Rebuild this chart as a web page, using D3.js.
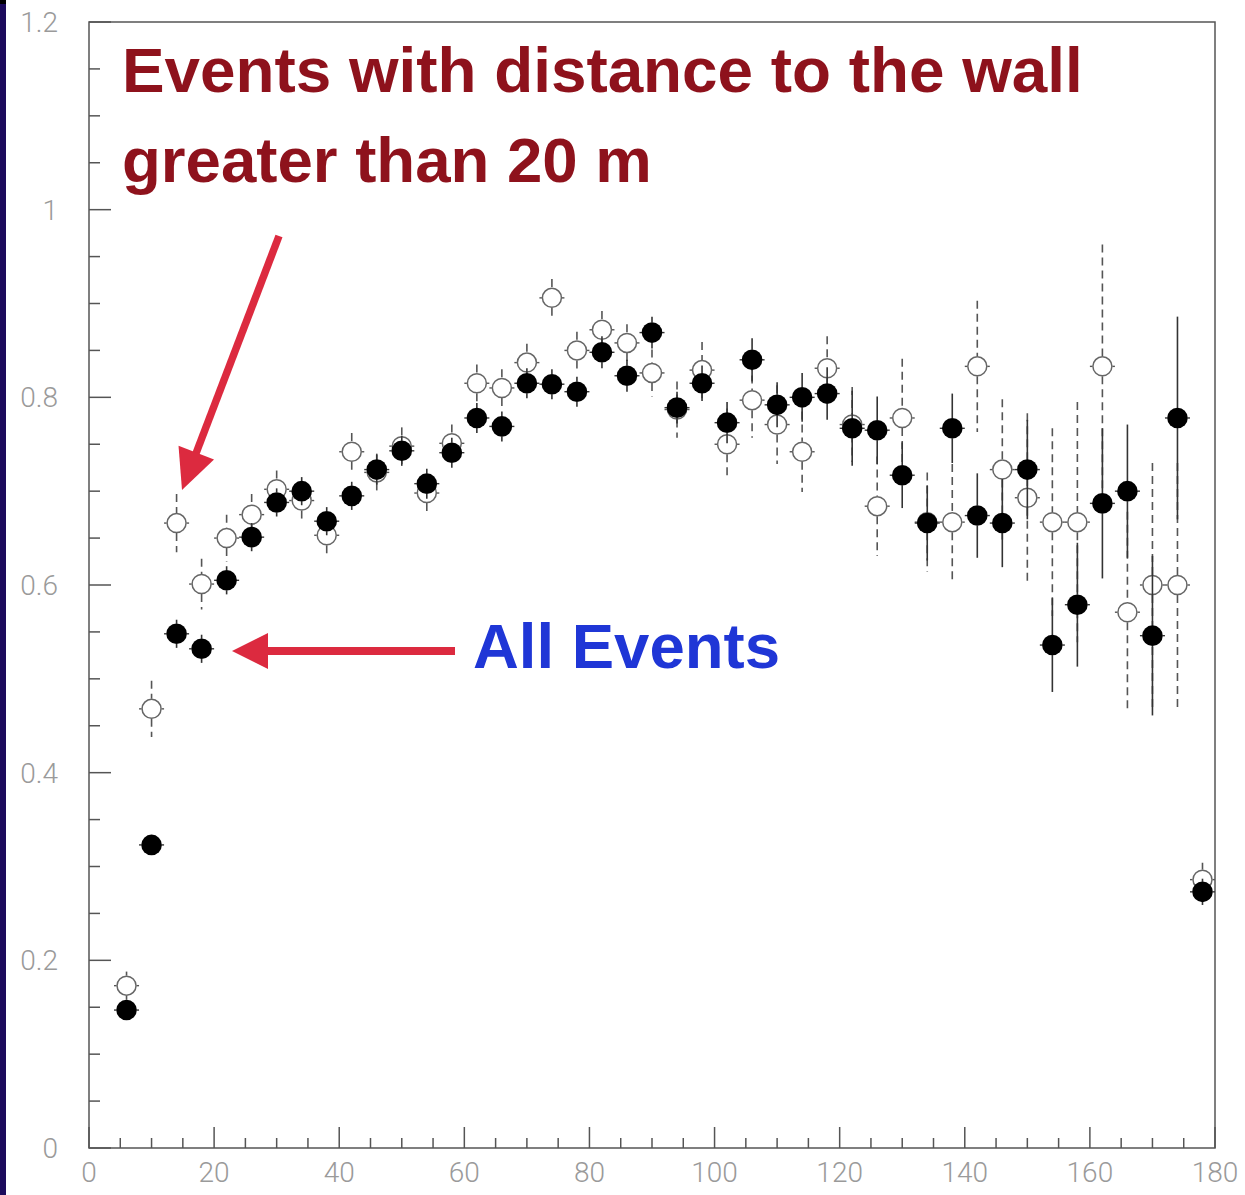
<!DOCTYPE html>
<html><head><meta charset="utf-8">
<script src="https://cdn.jsdelivr.net/npm/d3@7"></script>
<style>body{margin:0;background:#fff;overflow:hidden}</style>
</head><body>
<svg id="c" width="1245" height="1195"></svg>
<script>
// ---- data ----
const binCenters = [6,10,14,18,22,26,30,34,38,42,46,50,54,58,62,66,70,74,78,82,86,90,94,98,102,106,110,114,118,122,126,130,134,138,142,146,150,154,158,162,166,170,174,178];
const allEvents = [0.147,0.323,0.548,0.532,0.605,0.651,0.688,0.700,0.668,0.695,0.723,0.743,0.708,0.741,0.778,0.769,0.815,0.814,0.806,0.848,0.823,0.869,0.789,0.815,0.773,0.840,0.792,0.800,0.804,0.767,0.765,0.717,0.666,0.767,0.674,0.666,0.723,0.536,0.579,0.687,0.700,0.546,0.778,0.273];
const allErr = [0.008,0.010,0.015,0.015,0.015,0.015,0.015,0.015,0.015,0.015,0.016,0.016,0.016,0.016,0.016,0.016,0.016,0.016,0.016,0.017,0.017,0.017,0.017,0.019,0.022,0.023,0.024,0.026,0.028,0.040,0.036,0.035,0.040,0.037,0.045,0.047,0.053,0.050,0.066,0.080,0.071,0.085,0.108,0.014];
const wallEvents = [0.173,0.468,0.666,0.601,0.650,0.675,0.702,0.690,0.653,0.742,0.720,0.748,0.698,0.751,0.815,0.810,0.837,0.906,0.850,0.872,0.858,0.826,0.787,0.829,0.750,0.797,0.771,0.742,0.831,0.771,0.684,0.778,0.667,0.667,0.833,0.723,0.693,0.667,0.667,0.833,0.571,0.600,0.600,0.286];
const wallErr = [0.015,0.030,0.031,0.027,0.025,0.022,0.020,0.020,0.022,0.020,0.020,0.020,0.020,0.020,0.020,0.020,0.020,0.020,0.020,0.020,0.020,0.025,0.030,0.030,0.038,0.040,0.042,0.043,0.034,0.040,0.053,0.063,0.053,0.062,0.070,0.075,0.090,0.100,0.128,0.130,0.107,0.130,0.130,0.018];
const xTickLabels = [0,20,40,60,80,100,120,140,160,180];
const yTickLabels = [0,0.2,0.4,0.6,0.8,1,1.2];
const binHalfWidth = 2;

// ---- layout ----
const svg = d3.select("#c");
const L = 89, R = 1215, T = 22, B = 1148;
const x = d3.scaleLinear().domain([0,180]).range([L,R]);
const y = d3.scaleLinear().domain([0,1.2]).range([B,T]);
const rad = 10;

// left dark band
svg.append("rect").attr("x",0).attr("y",0).attr("width",6).attr("height",1195).attr("fill","#1c0b5c");
svg.append("rect").attr("x",0).attr("y",0).attr("width",6).attr("height",4).attr("fill","#000");

// frame
svg.append("rect").attr("x",L).attr("y",T).attr("width",R-L).attr("height",B-T)
  .attr("fill","none").attr("stroke","#555").attr("stroke-width",1.5);

// x axis ticks (inside)
const xMinor = d3.range(0,181,5);
svg.append("g").selectAll("line").data(xMinor).join("line")
  .attr("x1",d=>x(d)).attr("x2",d=>x(d)).attr("y1",B)
  .attr("y2",d=>d%20===0 ? B-21 : B-10)
  .attr("stroke","#555").attr("stroke-width",1.5);
svg.append("g").selectAll("text").data(xTickLabels).join("text")
  .attr("x",d=>x(d)).attr("y",1182).attr("text-anchor","middle")
  .attr("font-family","Roboto, 'DejaVu Sans', sans-serif").attr("font-weight",300)
  .attr("font-size",28).attr("fill","#9a9a9a").text(d=>d);

// y axis ticks
const yMinor = d3.range(0,25).map(i=>i*0.05);
svg.append("g").selectAll("line").data(yMinor).join("line")
  .attr("y1",d=>y(d)).attr("y2",d=>y(d)).attr("x1",L)
  .attr("x2",(d,i)=>i%4===0 ? L+22 : L+11)
  .attr("stroke","#555").attr("stroke-width",1.5);
svg.append("g").selectAll("text").data(yTickLabels).join("text")
  .attr("x",58).attr("y",d=>y(d)).attr("dy","0.36em").attr("text-anchor","end")
  .attr("font-family","Roboto, 'DejaVu Sans', sans-serif").attr("font-weight",300)
  .attr("font-size",28).attr("fill","#9a9a9a").text(d=>d);

// ---- error bars + markers ----
function drawSeries(vals, errs, filled){
  const g = svg.append("g");
  const color = filled ? "#333" : "#555";
  const dash = filled ? null : "8,5";
  vals.forEach((v,i)=>{
    const cx = x(binCenters[i]), cy = y(v);
    const top = y(v+errs[i]), bot = y(v-errs[i]);
    if (cy - top > rad) {
      g.append("line").attr("x1",cx).attr("x2",cx).attr("y1",top).attr("y2",cy-rad)
        .attr("stroke",color).attr("stroke-width",1.6).attr("stroke-dasharray",dash);
      g.append("line").attr("x1",cx).attr("x2",cx).attr("y1",cy+rad).attr("y2",bot)
        .attr("stroke",color).attr("stroke-width",1.6).attr("stroke-dasharray",dash);
    }
    const xl = x(binCenters[i]-binHalfWidth), xr = x(binCenters[i]+binHalfWidth);
    g.append("line").attr("x1",xl).attr("x2",cx-rad).attr("y1",cy).attr("y2",cy)
      .attr("stroke",color).attr("stroke-width",1.4);
    g.append("line").attr("x1",cx+rad).attr("x2",xr).attr("y1",cy).attr("y2",cy)
      .attr("stroke",color).attr("stroke-width",1.4);
  });
  g.selectAll("circle").data(vals).join("circle")
    .attr("cx",(d,i)=>x(binCenters[i])).attr("cy",d=>y(d))
    .attr("r", filled ? rad+0.3 : rad-0.5)
    .attr("fill", filled ? "#000" : "none")
    .attr("stroke", filled ? "none" : "#666")
    .attr("stroke-width",1.5);
}
drawSeries(wallEvents, wallErr, false);
drawSeries(allEvents, allErr, true);

// ---- annotations ----
function fitText(sel, width){
  const w = sel.node().getComputedTextLength();
  const fs = parseFloat(sel.attr("font-size"));
  sel.attr("font-size", fs*width/w);
}
const ff = "'Liberation Sans', Arial, Helvetica, sans-serif";
const t1 = svg.append("text").attr("x",122).attr("y",92).attr("font-family",ff)
  .attr("font-weight","bold").attr("font-size",60).attr("fill","#8e121c")
  .text("Events with distance to the wall");
fitText(t1, 961);
const t2 = svg.append("text").attr("x",122).attr("y",182).attr("font-family",ff)
  .attr("font-weight","bold").attr("font-size",60).attr("fill","#8e121c")
  .text("greater than 20 m");
fitText(t2, 530);
const t3 = svg.append("text").attr("x",473).attr("y",668).attr("font-family",ff)
  .attr("font-weight","bold").attr("font-size",60).attr("fill","#1f36d6")
  .text("All Events");
fitText(t3, 307);

// arrows
const red = "#dc2a3f";
function arrow(x0,y0,x1,y1,headLen,headHalf,lw){
  const dx = x1-x0, dy = y1-y0, len = Math.hypot(dx,dy);
  const ux = dx/len, uy = dy/len, px = -uy, py = ux;
  const bx = x1-ux*headLen, by = y1-uy*headLen;
  svg.append("line").attr("x1",x0).attr("y1",y0).attr("x2",bx+ux*2).attr("y2",by+uy*2)
    .attr("stroke",red).attr("stroke-width",lw);
  svg.append("path").attr("d",`M${x1},${y1}L${bx+px*headHalf},${by+py*headHalf}L${bx-px*headHalf},${by-py*headHalf}Z`)
    .attr("fill",red);
}
arrow(279,236,182,490,40,19,7.5);
arrow(455,651,232,651,36,18,8);
</script>
</body></html>
